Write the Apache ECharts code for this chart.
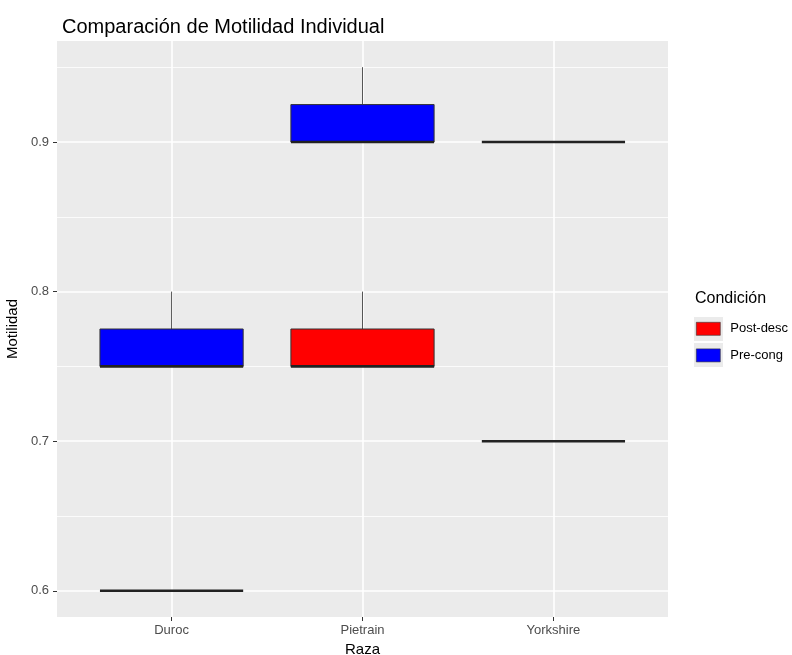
<!DOCTYPE html>
<html>
<head>
<meta charset="utf-8">
<script src="https://cdn.jsdelivr.net/npm/echarts@6/dist/echarts.min.js"></script>
<style>
html,body{margin:0;padding:0;background:#fff;}
#chart{width:792px;height:655px;}
</style>
</head>
<body>
<div id="chart"></div>
<script>
const categories = ['Duroc', 'Pietrain', 'Yorkshire'];
// [min, Q1, median, Q3, max] per category
const postDesc = [
  [0.6, 0.6, 0.6, 0.6, 0.6],
  [0.75, 0.75, 0.75, 0.775, 0.8],
  [0.7, 0.7, 0.7, 0.7, 0.7]
];
const preCong = [
  [0.75, 0.75, 0.75, 0.775, 0.8],
  [0.9, 0.9, 0.9, 0.925, 0.95],
  [0.9, 0.9, 0.9, 0.9, 0.9]
];
const yMajorTicks = [0.6, 0.7, 0.8, 0.9];
const yMinorTicks = [0.65, 0.75, 0.85, 0.95];
const xPositions = [1, 2, 3];
const BOX_W = 0.75;

function toData(arr) {
  return arr.map((d, i) => [xPositions[i]].concat(d));
}

function renderBox(params, api) {
  const x = api.value(0);
  const vmin = api.value(1), q1 = api.value(2), med = api.value(3), q3 = api.value(4), vmax = api.value(5);
  const half = api.size([BOX_W, 0])[0] / 2;
  const cx = api.coord([x, 0.7])[0];
  const yMin = api.coord([x, vmin])[1];
  const yQ1 = api.coord([x, q1])[1];
  const yMed = api.coord([x, med])[1];
  const yQ3 = api.coord([x, q3])[1];
  const yMax = api.coord([x, vmax])[1];
  const fill = api.visual('color');
  const children = [];
  if (yMax < yQ3) {
    children.push({type: 'line', shape: {x1: cx, y1: yQ3, x2: cx, y2: yMax}, style: {stroke: '#555', lineWidth: 1}});
  }
  if (yMin > yQ1) {
    children.push({type: 'line', shape: {x1: cx, y1: yQ1, x2: cx, y2: yMin}, style: {stroke: '#555', lineWidth: 1}});
  }
  if (yQ1 - yQ3 > 0.5) {
    children.push({type: 'rect', shape: {x: cx - half, y: yQ3, width: half * 2, height: yQ1 - yQ3},
      style: {fill: fill, stroke: '#333', lineWidth: 1}});
  }
  children.push({type: 'line', shape: {x1: cx - half, y1: yMed, x2: cx + half, y2: yMed},
    style: {stroke: '#222', lineWidth: 2.6}});
  return {type: 'group', children: children};
}

const chart = echarts.init(document.getElementById('chart'), null, {renderer: 'canvas'});
const FONT = 'Liberation Sans, Arial, sans-serif';

chart.setOption({
  animation: false,
  textStyle: {fontFamily: FONT},
  title: [
    {text: 'Comparación de Motilidad Individual', left: 57, top: 12,
      textStyle: {fontSize: 20, fontWeight: 'normal', color: '#000', fontFamily: FONT}},
    {text: 'Condición', left: 690, top: 286,
      textStyle: {fontSize: 16, fontWeight: 'normal', color: '#000', fontFamily: FONT}}
  ],
  graphic: [
    {type: 'rect', left: 693, top: 316, shape: {width: 30, height: 25}, style: {fill: '#ebebeb', stroke: '#fff', lineWidth: 1}, z: 0},
    {type: 'rect', left: 693, top: 342, shape: {width: 30, height: 25}, style: {fill: '#ebebeb', stroke: '#fff', lineWidth: 1}, z: 0}
  ],
  legend: {
    orient: 'vertical', left: 691, top: 317,
    itemWidth: 24, itemHeight: 13, itemGap: 13,
    icon: 'rect',
    itemStyle: {borderColor: '#333', borderWidth: 0.6},
    textStyle: {fontSize: 13, color: '#000', fontFamily: FONT, padding: [0, 0, 0, 5]},
    data: ['Post-desc', 'Pre-cong'],
    z: 5
  },
  grid: {left: 57, right: 124, top: 41, bottom: 38, show: true, backgroundColor: '#ebebeb',
    borderWidth: 0, containLabel: false, outerBoundsMode: 'none'},
  xAxis: {
    type: 'value', min: 0.4, max: 3.6,
    axisLine: {show: false},
    splitLine: {show: false},
    axisTick: {show: true, length: 4, lineStyle: {color: '#333'}, customValues: xPositions},
    axisLabel: {customValues: xPositions, color: '#4d4d4d', fontSize: 13, margin: 7,
      formatter: v => categories[Math.round(v) - 1]},
    name: 'Raza', nameLocation: 'middle', nameGap: 23,
    nameTextStyle: {fontSize: 15, color: '#000', fontFamily: FONT}
  },
  yAxis: {
    type: 'value', min: 0.5825, max: 0.9675,
    axisLine: {show: false},
    splitLine: {show: false},
    axisTick: {show: true, length: 4, lineStyle: {color: '#333'}, customValues: yMajorTicks},
    axisLabel: {customValues: yMajorTicks, color: '#4d4d4d', fontSize: 13, margin: 8,
      formatter: v => v.toFixed(1)},
    name: 'Motilidad', nameLocation: 'middle', nameGap: 29, nameRotate: 90,
    nameTextStyle: {fontSize: 15, color: '#000', fontFamily: FONT}
  },
  series: [
    {
      type: 'line', data: [], z: 1, silent: true,
      markLine: {
        silent: true, symbol: 'none', label: {show: false}, animation: false,
        data: []
          .concat(yMinorTicks.map(v => ({yAxis: v, lineStyle: {color: '#fff', width: 0.8, type: 'solid'}})))
          .concat(yMajorTicks.map(v => ({yAxis: v, lineStyle: {color: '#fff', width: 1.6, type: 'solid'}})))
          .concat(xPositions.map(v => ({xAxis: v, lineStyle: {color: '#fff', width: 1.6, type: 'solid'}})))
      }
    },
    {
      name: 'Post-desc', type: 'custom', z: 5,
      itemStyle: {color: '#ff0000'},
      renderItem: renderBox,
      encode: {x: 0, y: [1, 2, 3, 4, 5]},
      data: toData(postDesc)
    },
    {
      name: 'Pre-cong', type: 'custom', z: 5,
      itemStyle: {color: '#0000ff'},
      renderItem: renderBox,
      encode: {x: 0, y: [1, 2, 3, 4, 5]},
      data: toData(preCong)
    }
  ]
});
</script>
</body>
</html>
